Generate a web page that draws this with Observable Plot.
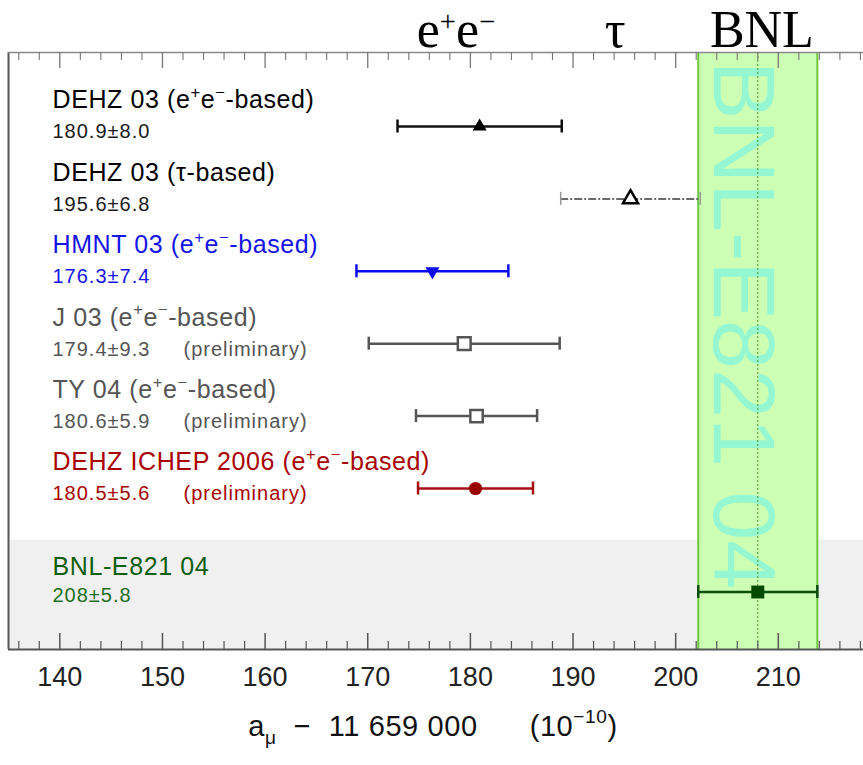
<!DOCTYPE html>
<html>
<head>
<meta charset="utf-8">
<script src="https://cdn.jsdelivr.net/npm/d3@7"></script>
<script src="https://cdn.jsdelivr.net/npm/@observablehq/plot@0.6"></script>
<style>
  body { margin: 0; background: #fff; }
  #chart svg { display: block; }
  #chart svg text { white-space: pre; }
  g[font-size="25"] text { letter-spacing: 0.6px; }
  g[font-size="20"] text { letter-spacing: 1px; }
  g[font-size="29"] text { letter-spacing: 0.6px; }
</style>
</head>
<body>
<div id="chart"></div>
<script>
// ---------------- data ----------------
const names = [
  "DEHZ 03 (e⁺e⁻-based)",
  "DEHZ 03 (τ-based)",
  "HMNT 03 (e⁺e⁻-based)",
  "J 03 (e⁺e⁻-based)",
  "TY 04 (e⁺e⁻-based)",
  "DEHZ ICHEP 2006 (e⁺e⁻-based)",
  "BNL-E821 04"
];
const centralValues = [180.9, 195.6, 176.3, 179.4, 180.6, 180.5, 208];
const uncertainties = [8.0, 6.8, 7.4, 9.3, 5.9, 5.6, 5.8];
const valueLabels = ["180.9±8.0", "195.6±6.8", "176.3±7.4", "179.4±9.3", "180.6±5.9", "180.5±5.6", "208±5.8"];
const notes = ["", "", "", "(preliminary)", "(preliminary)", "(preliminary)", ""];
const headerLabels = ["e⁺e⁻", "τ", "BNL"];
const headerPositions = [178.6, 194.1, 208.4];
const majorTicks = [140, 150, 160, 170, 180, 190, 200, 210];
const minorTicks = [136, 138, 142, 144, 146, 148, 152, 154, 156, 158, 162, 164, 166, 168,
                    172, 174, 176, 178, 182, 184, 186, 188, 192, 194, 196, 198, 202, 204,
                    206, 208, 212, 214, 216, 218];
const axisTitle = "a_{μ}  −  11 659 000      (10^{−10})";

// ---------------- styles ----------------
const sans = "'Liberation Sans', Arial, Helvetica, sans-serif";
const serif = "'Liberation Serif', 'Times New Roman', serif";
const rowStyles = [
  {text: "#000", value: "#1a1a1a", bar: "#111", barW: 2.5, dash: null, cap: "#111", capW: 2.5, symbol: "triangle", r: 5.2, fill: "#000", stroke: "none", sw: 0, rotate: 0},
  {text: "#000", value: "#1a1a1a", bar: "#6a6a6a", barW: 2, dash: "8,2,2,2", cap: "#999", capW: 1.5, symbol: "triangle", r: 5.6, fill: "#fff", stroke: "#000", sw: 2.5, rotate: 0},
  {text: "#1414e6", value: "#1414e6", bar: "#0a0aee", barW: 2.5, dash: null, cap: "#0a0aee", capW: 2.5, symbol: "triangle", r: 5.2, fill: "#0a0aee", stroke: "none", sw: 0, rotate: 180},
  {text: "#555", value: "#555", bar: "#555", barW: 2.5, dash: null, cap: "#555", capW: 2.5, symbol: "square", r: 7.2, fill: "#fff", stroke: "#555", sw: 2.5, rotate: 0},
  {text: "#555", value: "#555", bar: "#555", barW: 2.5, dash: null, cap: "#555", capW: 2.5, symbol: "square", r: 7.0, fill: "#fff", stroke: "#555", sw: 2.5, rotate: 0},
  {text: "#a80000", value: "#a80000", bar: "#a81010", barW: 2.5, dash: null, cap: "#a81010", capW: 2.5, symbol: "circle", r: 6.6, fill: "#990000", stroke: "none", sw: 0, rotate: 0},
  {text: "#0d5e0d", value: "#1f6f1f", bar: "#0b4d0b", barW: 2.5, dash: null, cap: "#0b4d0b", capW: 2.5, symbol: "square", r: 7.3, fill: "#004a00", stroke: "none", sw: 0, rotate: 0}
];

// ---------------- layout (slots) ----------------
const theoryCount = 6;
const experimentGap = 1.43;           // extra spacing before the measurement row
const xDomain = [135, 218.3];
const yTop = -1.022, yBottom = 7.224; // slot units at frame top / bottom

const rows = names.map((name, i) => ({
  name, v: centralValues[i], e: uncertainties[i],
  label: valueLabels[i], note: notes[i],
  slot: i < theoryCount ? i : theoryCount - 1 + experimentGap,
  ...rowStyles[i]
}));
const bnl = rows[rows.length - 1];
const headers = headerLabels.map((label, i) => ({label, x: headerPositions[i]}));
const frameH = 765 - 52 - 116;

const marks = [
  // grey measurement section
  Plot.rect([bnl], {y1: d => d.slot - 0.715, y2: yBottom, fill: "#f0f0f0"}),
  // green BNL band
  Plot.rect([bnl], {x1: d => d.v - d.e, x2: d => d.v + d.e, fill: "#ccffb4"}),
  Plot.text([bnl], {x: "v", text: "name", rotate: 90, frameAnchor: "middle", dx: -16, dy: -26,
    fontSize: 88, fontFamily: sans, fill: "#95f7d2"}),
  Plot.ruleX([bnl], {x: "v", stroke: "#4a9a2a", strokeWidth: 1, strokeDasharray: "2,2"}),
  Plot.ruleX([bnl], {x: d => d.v - d.e, stroke: "#6cc83a", strokeWidth: 2}),
  Plot.ruleX([bnl], {x: d => d.v + d.e, stroke: "#6cc83a", strokeWidth: 2}),
  // frame
  Plot.ruleX([xDomain[0]], {x: d => d, stroke: "#555", strokeWidth: 2}),
  Plot.ruleY([yTop], {y: d => d, stroke: "#888", strokeWidth: 1.5}),
  Plot.ruleY([yBottom], {y: d => d, stroke: "#555", strokeWidth: 2}),
  // ticks bottom
  Plot.tickX(majorTicks, {x: d => d, insetTop: frameH - 16, stroke: "#555", strokeWidth: 1.5}),
  Plot.tickX(minorTicks, {x: d => d, insetTop: frameH - 8, stroke: "#555", strokeWidth: 1.2}),
  // ticks top
  Plot.tickX(majorTicks, {x: d => d, insetBottom: frameH - 16, stroke: "#777", strokeWidth: 1.3}),
  Plot.tickX(minorTicks, {x: d => d, insetBottom: frameH - 8, stroke: "#777", strokeWidth: 1.1}),
  Plot.axisX({ticks: majorTicks, tickSize: 0, tickPadding: 17, fontSize: 27, fontFamily: sans,
    fill: "#222", label: null, tickFormat: d => String(d)}),
  // headers above the frame
  Plot.text(headers, {x: "x", text: "label", frameAnchor: "top", lineAnchor: "bottom", dy: -6,
    fontSize: 52, fontFamily: serif, fill: "#000"}),
  // axis title
  Plot.text([axisTitle], {text: d => d, frameAnchor: "bottom", dy: 86, dx: -3,
    fontSize: 29, fontFamily: sans, fill: "#111"})
];

rows.forEach(d => {
  const dy = d === bnl ? 3.5 : 5.5;
  const dyName = d === bnl ? -25 : -26;
  marks.push(
    Plot.ruleY([d], {y: "slot", x1: r => r.v - r.e, x2: r => r.v + r.e, stroke: d.bar,
      strokeWidth: d.barW, strokeDasharray: d.dash}),
    Plot.ruleX([d], {x: r => r.v - r.e, y1: "slot", y2: "slot", insetTop: -6.5, insetBottom: -6.5,
      stroke: d.cap, strokeWidth: d.capW}),
    Plot.ruleX([d], {x: r => r.v + r.e, y1: "slot", y2: "slot", insetTop: -6.5, insetBottom: -6.5,
      stroke: d.cap, strokeWidth: d.capW}),
    Plot.dot([d], {x: "v", y: "slot", symbol: d.symbol, r: d.r, fill: d.fill,
      stroke: d.stroke, strokeWidth: d.sw, rotate: d.rotate}),
    Plot.text([d], {y: "slot", text: "name", frameAnchor: "left", textAnchor: "start",
      dx: 44, dy: dyName, fontSize: 25, fontFamily: sans, fill: d.text}),
    Plot.text([d], {y: "slot", text: "label", frameAnchor: "left", textAnchor: "start",
      dx: 44, dy, fontSize: 20, fontFamily: sans, fill: d.value})
  );
  if (d.note) marks.push(
    Plot.text([d], {y: "slot", text: "note", frameAnchor: "left", textAnchor: "start",
      dx: 175, dy, fontSize: 20, fontFamily: sans, fill: d.value})
  );
});

const svg = Plot.plot({
  width: 863, height: 765,
  marginLeft: 8, marginRight: 0, marginTop: 52, marginBottom: 116,
  x: {domain: xDomain},
  y: {domain: [yBottom, yTop], axis: null},
  style: {background: "#fff", fontFamily: sans, overflow: "visible"},
  marks
});
document.getElementById("chart").appendChild(svg);

// superscripts / subscripts as tspans
function richify(root) {
  root.querySelectorAll("text").forEach(t => {
    const s = t.textContent;
    if (!/[⁺⁻]|[\^_]\{/.test(s)) return;
    const fs = parseFloat(getComputedStyle(t).fontSize);
    const big = fs > 40;
    const supShift = big ? 0.3 : 0.42, subShift = 0.3, scale = big ? 0.55 : 0.66;
    const tokens = [];
    const re = /([\^_])\{([^}]*)\}|([⁺⁻])/g;
    let last = 0, m;
    while ((m = re.exec(s))) {
      if (m.index > last) tokens.push({t: s.slice(last, m.index), k: 0});
      if (m[3]) tokens.push({t: m[3] === "⁺" ? "+" : "−", k: 1});
      else tokens.push({t: m[2], k: m[1] === "^" ? 1 : -1});
      last = re.lastIndex;
    }
    if (last < s.length) tokens.push({t: s.slice(last), k: 0});
    t.textContent = "";
    let shift = 0;
    tokens.forEach(tok => {
      const span = document.createElementNS("http://www.w3.org/2000/svg", "tspan");
      const target = tok.k === 1 ? -supShift * fs : tok.k === -1 ? subShift * fs : 0;
      if (target - shift !== 0) span.setAttribute("dy", (target - shift).toFixed(2));
      shift = target;
      if (tok.k) span.setAttribute("font-size", (scale * fs).toFixed(1));
      span.textContent = tok.t;
      t.appendChild(span);
    });
  });
}
richify(svg);
</script>
</body>
</html>
